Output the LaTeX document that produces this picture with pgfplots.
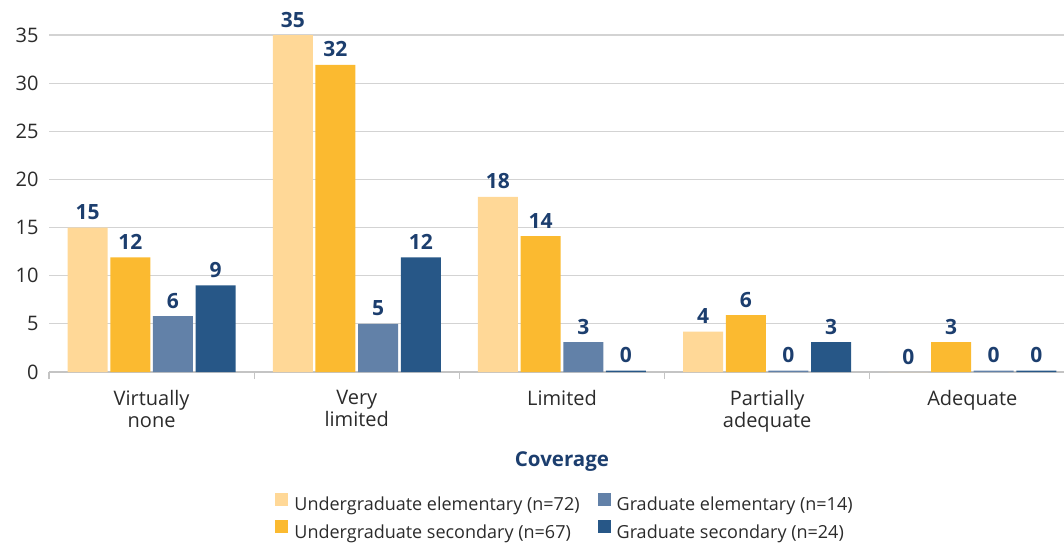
\documentclass[border=0pt]{standalone}
\usepackage{pgfplots}
\pgfplotsset{compat=1.18}
\usepackage{fontspec}
\setmainfont{Open Sans}
\definecolor{ugelem}{HTML}{FFD897}
\definecolor{ugsec}{HTML}{FBBA30}
\definecolor{grelem}{HTML}{6281A8}
\definecolor{grsec}{HTML}{275787}
\definecolor{lblblue}{HTML}{1C3E6E}
\definecolor{txtgray}{HTML}{2B2B2B}
\definecolor{gridgray}{HTML}{D3D3D3}
\definecolor{axgray}{HTML}{C4C4C4}
\begin{document}
\begin{tikzpicture}
\begin{axis}[
  scale only axis,
  width=1026pt, height=337pt,
  xmin=-0.5, xmax=4.5, ymin=0, ymax=35,
  clip=false,
  ybar, bar width=40pt,
  axis x line*=bottom, axis y line*=left,
  y axis line style={draw=none},
  x axis line style={draw=axgray, line width=1.3pt, -},
  ytick={0,5,...,35},
  ytick style={draw=none},
  ymajorgrids, grid style={draw=gridgray, line width=1.2pt},
  xtick={0,1,2,3,4},
  xticklabels={{Virtually\\none},{Very\\limited},{Limited},{Partially\\adequate},{Adequate}},
  minor xtick={-0.5,0.5,1.5,2.5,3.5,4.5},
  major tick length=0pt,
  minor tick length=7pt,
  tick align=outside,
  minor x tick style={draw=axgray, line width=1.3pt},
  /pgf/number format/assume math mode=true,
  yticklabel style={font=\fontsize{20}{22}\selectfont, text=txtgray, xshift=-7pt},
  xticklabel style={font=\fontsize{20}{22}\selectfont, text=txtgray, align=center, yshift=-15pt},
  xlabel={Coverage},
  xlabel style={at={(axis description cs:0.5,0)}, anchor=base, yshift=-94pt, font=\fontsize{20.5}{22}\selectfont\bfseries, text=lblblue},
  nodes near coords={\pgfmathprintnumber[fixed,precision=0]{\pgfplotspointmeta}},
  every node near coord/.append style={font=\fontsize{21}{22}\selectfont\bfseries, text=lblblue, anchor=south, inner sep=5pt, yshift=2.5pt},
  legend columns=2,
  transpose legend,
  legend cell align=left,
  legend style={at={(axis description cs:0.503,-0.352)}, anchor=north, draw=none, fill=none,
    font=\fontsize{18}{20}\selectfont, text=txtgray,
    /tikz/every even column/.append style={column sep=16pt},
    row sep=6pt,
    nodes={inner sep=2pt}},
  legend image code/.code={\fill[#1,draw=none] (0pt,-1pt) rectangle (13pt,12pt); \path (17pt,0pt);},
]
\addplot[fill=ugelem, draw=none, bar shift=-64pt] coordinates {(0,15) (1,35) (2,18.2) (3,4.2) (4,0)};
\addplot[fill=ugsec, draw=none, bar shift=-21.3pt] coordinates {(0,11.9) (1,31.9) (2,14.1) (3,5.9) (4,3.1)};
\addplot[fill=grelem, draw=none, bar shift=21.3pt] coordinates {(0,5.8) (1,5) (2,3.1) (3,0.15) (4,0.15)};
\addplot[fill=grsec, draw=none, bar shift=64pt] coordinates {(0,9) (1,11.9) (2,0.15) (3,3.1) (4,0.15)};
\legend{Undergraduate elementary (n=72), Undergraduate secondary (n=67), Graduate elementary (n=14), Graduate secondary (n=24)}
\end{axis}
\pgfresetboundingbox
\path (-49pt,-172pt) rectangle (1015pt,372pt);
\end{tikzpicture}
\end{document}
